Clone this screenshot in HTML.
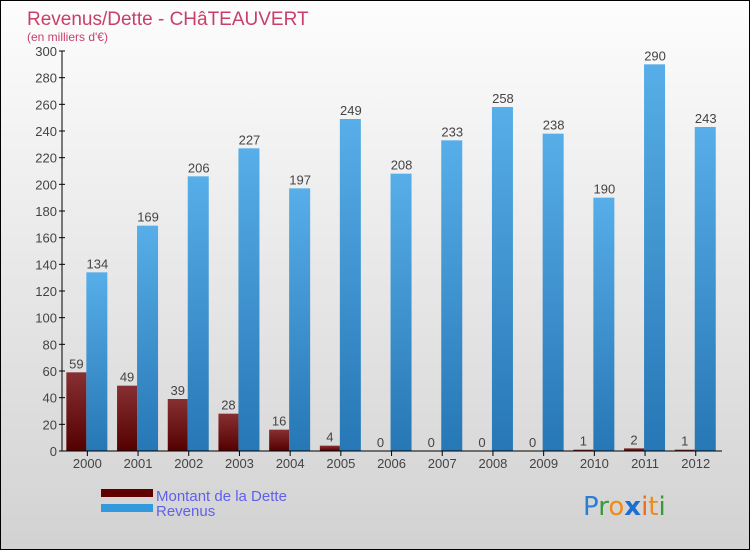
<!DOCTYPE html>
<html><head><meta charset="utf-8"><style>
body{margin:0}
#c{position:relative;width:748px;height:548px;border:1px solid #000;background:linear-gradient(#fdfdfd,#d2d2d2);font-family:"Liberation Sans",sans-serif;overflow:hidden}
</style></head><body>
<div id="c">
<svg id="s" width="748" height="548" style="position:absolute;left:0;top:0">
<defs>
<linearGradient id="gr" x1="0" y1="0" x2="0" y2="1"><stop offset="0" stop-color="#57aee8"/><stop offset="1" stop-color="#2677b5"/></linearGradient>
<linearGradient id="gd" x1="0" y1="0" x2="0" y2="1"><stop offset="0" stop-color="#873033"/><stop offset="1" stop-color="#540000"/></linearGradient>
</defs>
<text x="26" y="24" font-size="19" fill="#c8406a">Revenus/Dette - CHâTEAUVERT</text>
<text x="26" y="40" font-size="12" fill="#c8406a">(en milliers d'€)</text>
<g id="g"></g>
<rect x="100" y="488" width="52" height="8" fill="#600000"/>
<rect x="100" y="503" width="52" height="8" fill="#3399dd"/>
<text x="155" y="500" font-size="15" fill="#6060ee">Montant de la Dette</text>
<text x="155" y="515" font-size="15" fill="#6060ee">Revenus</text>
<text x="582" y="514" font-size="26" font-family="'DejaVu Sans',sans-serif"><tspan fill="#2a7fd4">P</tspan><tspan fill="#3a9a3a">r</tspan><tspan fill="#f08a1a">o</tspan><tspan fill="#1a6fd0" font-weight="bold">x</tspan><tspan fill="#f06a1a">i</tspan><tspan fill="#f08a1a">t</tspan><tspan fill="#3a9a3a">i</tspan></text>
</svg>
</div>
<script>
const years=["2000","2001","2002","2003","2004","2005","2006","2007","2008","2009","2010","2011","2012"];
const dette=[59,49,39,28,16,4,0,0,0,0,1,2,1];
const revenus=[134,169,206,227,197,249,208,233,258,238,190,290,243];
const ticks=[0,20,40,60,80,100,120,140,160,180,200,220,240,260,280,300];
const NS="http://www.w3.org/2000/svg",g=document.getElementById('g');
const x0=61,band=50.7,y=v=>450-v*400/300;
function mk(t,a){const e=document.createElementNS(NS,t);for(const k in a)e.setAttribute(k,a[k]);g.appendChild(e);return e;}
ticks.forEach(t=>{
 const l=mk('line',{x1:58,x2:64,y1:y(t),y2:y(t),stroke:'#000'});
 
 
 const tx=mk('text',{x:56,y:y(t)+5,'text-anchor':'end','font-size':13,fill:'#444'});tx.textContent=t;
 
 
});
years.forEach((yr,i)=>{
 const c=x0+band*(i+0.5);
 const d=mk('rect',{x:c-21,y:y(dette[i]),width:20,height:450-y(dette[i]),fill:'url(#gd)'});
 
 
 const r=mk('rect',{x:c-1,y:y(revenus[i]),width:21,height:450-y(revenus[i]),fill:'url(#gr)'});
 
 
 const dl=mk('text',{x:c-11,y:y(dette[i])-4,'text-anchor':'middle','font-size':13,fill:'#444'});dl.textContent=dette[i];
 
 
 const rl=mk('text',{x:c+10,y:y(revenus[i])-4,'text-anchor':'middle','font-size':13,fill:'#444'});rl.textContent=revenus[i];
 
 
 const tk=mk('line',{x1:c,x2:c,y1:450,y2:455,stroke:'#000'});
 
 
 const xl=mk('text',{x:c,y:467,'text-anchor':'middle','font-size':13,fill:'#444'});xl.textContent=yr;
 
 
});
const ax=mk('line',{x1:61,x2:61,y1:50,y2:450,stroke:'#000'});


const bx=mk('line',{x1:61,x2:721,y1:450,y2:450,stroke:'#000'});


</script>
</body></html>
